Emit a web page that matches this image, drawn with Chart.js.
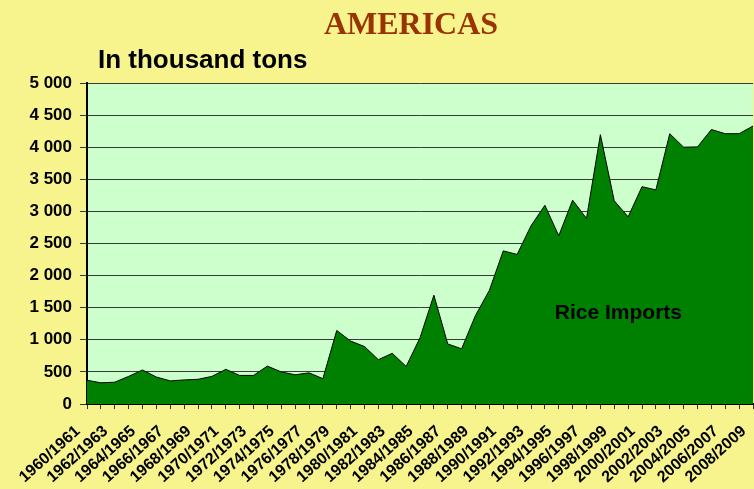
<!DOCTYPE html>
<html>
<head>
<meta charset="utf-8">
<script src="https://cdn.jsdelivr.net/npm/chart.js@4.4.1/dist/chart.umd.min.js"></script>
<style>
  html, body { margin: 0; padding: 0; background: #f7f48e; }
  #wrap { position: relative; width: 754px; height: 489px; }
</style>
</head>
<body>
<div id="wrap"><canvas id="chart" width="754" height="489"></canvas></div>
<script>
/* ── Data ─────────────────────────────────────────────────────────────── */
const seasons = [
  "1960/1961", "1961/1962", "1962/1963", "1963/1964", "1964/1965",
  "1965/1966", "1966/1967", "1967/1968", "1968/1969", "1969/1970",
  "1970/1971", "1971/1972", "1972/1973", "1973/1974", "1974/1975",
  "1975/1976", "1976/1977", "1977/1978", "1978/1979", "1979/1980",
  "1980/1981", "1981/1982", "1982/1983", "1983/1984", "1984/1985",
  "1985/1986", "1986/1987", "1987/1988", "1988/1989", "1989/1990",
  "1990/1991", "1991/1992", "1992/1993", "1993/1994", "1994/1995",
  "1995/1996", "1996/1997", "1997/1998", "1998/1999", "1999/2000",
  "2000/2001", "2001/2002", "2002/2003", "2003/2004", "2004/2005",
  "2005/2006", "2006/2007", "2007/2008", "2008/2009"
];

// thousand tons
const riceImports = [
  370, 330, 340, 430, 530, 420, 360, 375, 385, 430,
  540, 445, 445, 590, 500, 455, 485, 395, 1145, 980,
  895, 690, 790, 585, 1030, 1695, 935, 860, 1380, 1770,
  2385, 2330, 2775, 3095, 2620, 3175, 2890, 4195, 3165, 2915,
  3385, 3335, 4210, 4000, 4005, 4275, 4210, 4210, 4330
];

const yMin = 0;
const yMax = 5000;
const yStep = 500;

const chartTitle = "AMERICAS";
const unitLabel = "In thousand tons";
const seriesLabel = "Rice Imports";

/* ── Plugins: plot background + free texts ───────────────────────────── */
const plotBackground = {
  id: "plotBackground",
  beforeDraw(chart) {
    const { ctx, chartArea: a } = chart;
    ctx.save();
    ctx.fillStyle = "#ccffcc";
    ctx.fillRect(a.left, a.top, a.right - a.left, a.bottom - a.top);
    ctx.restore();
  }
};

const texts = {
  id: "texts",
  afterDraw(chart) {
    const { ctx } = chart;
    const x = chart.scales.x;
    const y = chart.scales.y;
    ctx.save();
    // main title
    ctx.fillStyle = "#993300";
    ctx.font = 'bold 32px "Liberation Serif", "Times New Roman", serif';
    ctx.textAlign = "center";
    ctx.textBaseline = "alphabetic";
    ctx.fillText(chartTitle, 411, 34);
    // unit
    ctx.fillStyle = "#000";
    ctx.font = 'bold 26px "Liberation Sans", Arial, sans-serif';
    ctx.textAlign = "left";
    ctx.fillText(unitLabel, 98, 68);
    // series label inside the area
    ctx.font = 'bold 21px "Liberation Sans", Arial, sans-serif';
    ctx.textAlign = "center";
    ctx.textBaseline = "middle";
    ctx.fillText(seriesLabel, x.getPixelForValue(38.3), y.getPixelForValue(1420));
    ctx.restore();
  }
};

/* ── Chart ────────────────────────────────────────────────────────────── */
const fmtThousands = (v) =>
  v >= 1000 ? Math.floor(v / 1000) + " " + String(v % 1000).padStart(3, "0") : String(v);

new Chart(document.getElementById("chart"), {
  type: "line",
  data: {
    labels: seasons,
    datasets: [{
      label: seriesLabel,
      data: riceImports,
      fill: "origin",
      backgroundColor: "#008000",
      borderColor: "#000000",
      borderWidth: 1,
      pointRadius: 0,
      tension: 0
    }]
  },
  options: {
    responsive: false,
    animation: false,
    layout: { padding: { top: 83, right: 1, bottom: 0, left: 0 } },
    plugins: {
      legend: { display: false },
      tooltip: { enabled: false }
    },
    scales: {
      x: {
        offset: false,
        afterFit: (s) => {
          s.height = 85;
          s.paddingLeft = 0;
          s.paddingRight = 0;
        },
        grid: {
          drawOnChartArea: false,
          drawTicks: true,
          tickLength: 5,
          tickWidth: 1,
          tickColor: "#333"
        },
        border: { color: "#000", width: 2 },
        ticks: {
          autoSkip: false,
          maxRotation: 42,
          minRotation: 42,
          padding: 13,
          labelOffset: -9,
          color: "#000",
          font: { family: '"Liberation Sans", Arial, sans-serif', size: 16, weight: "bold" },
          callback: (v, i) => (i % 2 === 0 ? seasons[i] : "")
        }
      },
      y: {
        min: yMin,
        max: yMax,
        afterFit: (s) => { s.width = 87; },
        grid: {
          color: "#3a3a3a",
          lineWidth: 1,
          tickLength: 7,
          tickColor: "#333"
        },
        border: { color: "#000", width: 2 },
        ticks: {
          stepSize: yStep,
          padding: 8,
          color: "#000",
          font: { family: '"Liberation Sans", Arial, sans-serif', size: 17, weight: "bold" },
          callback: (v) => fmtThousands(v)
        }
      }
    }
  },
  plugins: [plotBackground, texts]
});
</script>
</body>
</html>
